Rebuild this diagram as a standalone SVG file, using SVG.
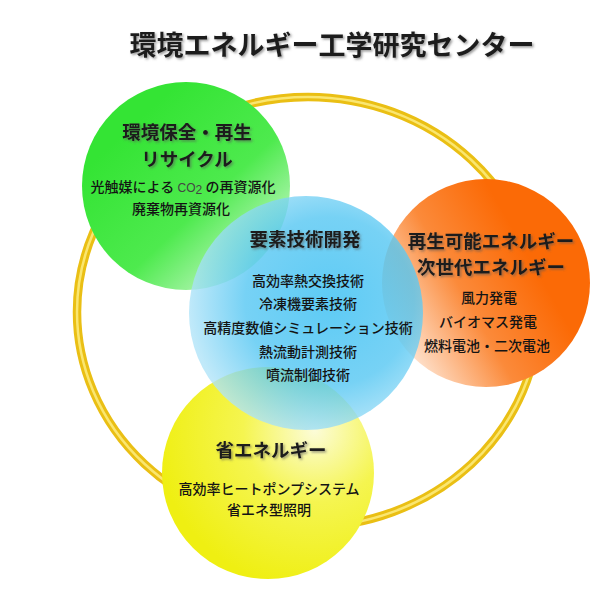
<svg xmlns="http://www.w3.org/2000/svg" width="600" height="594" viewBox="0 0 600 594">
<defs>
<linearGradient id="gGreen" x1="0.25" y1="0.2" x2="0.95" y2="0.95">
<stop offset="0" stop-color="#34e434"/>
<stop offset="0.5" stop-color="#4eea4e"/>
<stop offset="1" stop-color="#e6fbe6"/>
</linearGradient>
<radialGradient id="gBlue" cx="0.6" cy="0.45" r="0.6">
<stop offset="0" stop-color="#30bcf2"/>
<stop offset="0.6" stop-color="#50c5f2"/>
<stop offset="1" stop-color="#aee3f8"/>
</radialGradient>
<linearGradient id="gOrange" x1="0.05" y1="0.85" x2="0.75" y2="0.45">
<stop offset="0" stop-color="#fff4ec"/>
<stop offset="0.55" stop-color="#fb8a3a"/>
<stop offset="1" stop-color="#fb6a06"/>
</linearGradient>
<radialGradient id="gYellow" cx="0.72" cy="0.3" r="0.75">
<stop offset="0" stop-color="#fcfcd8"/>
<stop offset="0.45" stop-color="#f5f550"/>
<stop offset="1" stop-color="#efef12"/>
</radialGradient>
<filter id="sh" x="-10%" y="-30%" width="130%" height="170%">
<feDropShadow dx="1.5" dy="1.5" stdDeviation="1" flood-color="#555" flood-opacity="0.6"/>
</filter>
</defs>
<style>
text{font-family:"Noto Sans CJK JP","Noto Sans CJK SC",sans-serif;fill:#141414;text-anchor:middle}
.t{font-size:27px;font-weight:bold;fill:#1c1c1c}
.h{font-size:18.5px;font-weight:bold;fill:#1c1c1c;filter:url(#sh)}
.i{font-size:14px;font-weight:500}
.co{font-family:"Liberation Sans",sans-serif;font-size:12px;font-weight:normal;fill:#444}
</style>
<rect width="600" height="594" fill="#ffffff"/>
<g id="title"><text class="t" x="332" y="55" filter="url(#sh)">環境エネルギー工学研究センター</text></g>
<g id="ring">
<ellipse cx="308" cy="312" rx="231" ry="215" fill="none" stroke="#eabf14" stroke-width="8.5"/>
<ellipse cx="308" cy="312" rx="231" ry="215" fill="none" stroke="#fae670" stroke-width="2.5"/>
</g>
<g id="green"><circle cx="186" cy="186" r="104" fill="url(#gGreen)"/></g>
<g id="orange"><circle cx="486" cy="283" r="104" fill="url(#gOrange)"/></g>
<g id="yellow"><circle cx="268" cy="473" r="106" fill="url(#gYellow)"/></g>
<g id="blue"><circle cx="306" cy="313" r="117" fill="url(#gBlue)" opacity="0.78"/></g>
<g id="green-text">
<text class="h" x="187" y="139">環境保全・再生</text>
<text class="h" x="187" y="166">リサイクル</text>
<text class="i" x="183" y="192">光触媒による<tspan class="co"> CO</tspan><tspan class="co" font-size="8" dy="2">2</tspan><tspan dy="-2"> の再資源化</tspan></text>
<text class="i" x="181" y="214">廃棄物再資源化</text>
</g>
<g id="blue-text">
<text class="h" x="305" y="246">要素技術開発</text>
<text class="i" x="308" y="286">高効率熱交換技術</text>
<text class="i" x="308" y="309">冷凍機要素技術</text>
<text class="i" x="308" y="333">高精度数値シミュレーション技術</text>
<text class="i" x="308" y="357">熱流動計測技術</text>
<text class="i" x="308" y="380">噴流制御技術</text>
</g>
<g id="orange-text">
<text class="h" x="491" y="248">再生可能エネルギー</text>
<text class="h" x="491" y="274">次世代エネルギー</text>
<text class="i" x="489" y="303">風力発電</text>
<text class="i" x="488" y="327">バイオマス発電</text>
<text class="i" x="487" y="351">燃料電池・二次電池</text>
</g>
<g id="yellow-text">
<text class="h" x="271" y="457">省エネルギー</text>
<text class="i" x="269" y="494">高効率ヒートポンプシステム</text>
<text class="i" x="269" y="515">省エネ型照明</text>
</g>
</svg>
